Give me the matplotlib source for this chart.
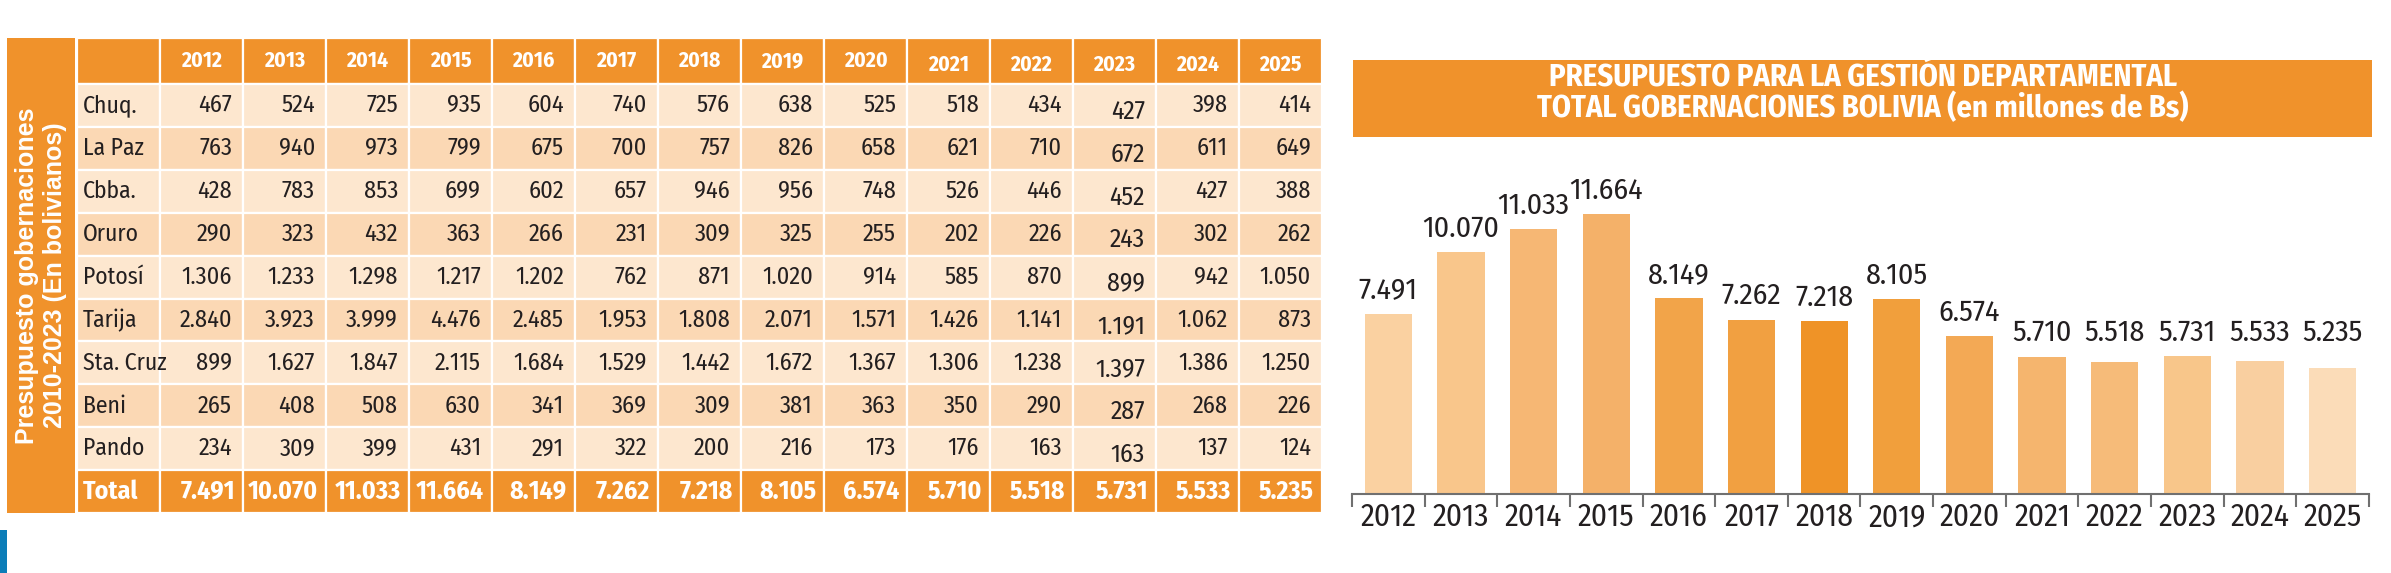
import matplotlib
matplotlib.use("Agg")
import matplotlib.pyplot as plt
from matplotlib.patches import Rectangle
from matplotlib import font_manager

# Data
years = ['2012', '2013', '2014', '2015', '2016', '2017', '2018',
         '2019', '2020', '2021', '2022', '2023', '2024', '2025']
departments = ['Chuq.', 'La Paz', 'Cbba.', 'Oruro', 'Potosí', 'Tarija',
               'Sta. Cruz', 'Beni', 'Pando']

chuq = [467, 524, 725, 935, 604, 740, 576, 638, 525, 518, 434, 427, 398, 414]
la_paz = [763, 940, 973, 799, 675, 700, 757, 826, 658, 621, 710, 672, 611, 649]
cbba = [428, 783, 853, 699, 602, 657, 946, 956, 748, 526, 446, 452, 427, 388]
oruro = [290, 323, 432, 363, 266, 231, 309, 325, 255, 202, 226, 243, 302, 262]
potosi = [1306, 1233, 1298, 1217, 1202, 762, 871, 1020, 914, 585, 870, 899, 942, 1050]
tarija = [2840, 3923, 3999, 4476, 2485, 1953, 1808, 2071, 1571, 1426, 1141, 1191, 1062, 873]
sta_cruz = [899, 1627, 1847, 2115, 1684, 1529, 1442, 1672, 1367, 1306, 1238, 1397, 1386, 1250]
beni = [265, 408, 508, 630, 341, 369, 309, 381, 363, 350, 290, 287, 268, 226]
pando = [234, 309, 399, 431, 291, 322, 200, 216, 173, 176, 163, 163, 137, 124]
totals = [7491, 10070, 11033, 11664, 8149, 7262, 7218, 8105, 6574, 5710, 5518, 5731, 5533, 5235]

rows = [chuq, la_paz, cbba, oruro, potosi, tarija, sta_cruz, beni, pando]

bar_colors = ['#fad1a1', '#f9c68b', '#f6b774', '#f4b169', '#f2a449', '#f1a041', '#ef9327',
              '#f19f3c', '#f3a955', '#f5b56e', '#f6bb79', '#f8c68a', '#f9cfa0', '#fbdcb8']

side_title = 'Presupuesto gobernaciones\n2010-2023 (En bolivianos)'
chart_title_1 = 'PRESUPUESTO PARA LA GESTIÓN DEPARTAMENTAL'
chart_title_2 = 'TOTAL GOBERNACIONES BOLIVIA (en millones de Bs)'

ORANGE = '#f0922b'
LIGHT = '#fde7cf'
DARK = '#fbd8b4'
TXT = '#231f20'

# pick a condensed face (the original uses a condensed sans)
names = {f.name for f in font_manager.fontManager.ttflist}
NARROW = 'DejaVu Sans'
for cand in ['Fira Sans Condensed', 'Roboto Condensed', 'PT Sans Narrow', 'Archivo Narrow',
             'Asap Condensed', 'Encode Sans Condensed', 'Pragati Narrow', 'Liberation Sans Narrow']:
    if cand in names:
        NARROW = cand
        break
WIDE = 'Liberation Sans' if 'Liberation Sans' in names else 'DejaVu Sans'


def fmt(v):
    return f"{v:,}".replace(',', '.')


W, H = 2391, 573
fig = plt.figure(figsize=(W / 100, H / 100), dpi=100)

# pixel-space axes for the table and decorations
bg = fig.add_axes([0, 0, 1, 1])
bg.set_xlim(0, W)
bg.set_ylim(H, 0)
bg.axis('off')

# table geometry
top = 38
head_h = 46
row_h = (513 - top - head_h) / 10
label_x0, label_x1 = 77, 160
col_w = 83

# side panel
bg.add_patch(Rectangle((7, top), 68, 513 - top, color=ORANGE, lw=0))
bg.text(41, (top + 513) / 2, side_title, rotation=90, ha='center', va='center',
        color='white', fontsize=18, fontweight='bold', family=WIDE,
        multialignment='center', linespacing=1.2)

# blue mark at the bottom-left
bg.add_patch(Rectangle((0, 530), 7, 43, color='#0b7db8', lw=0))


def cell(x, y, w, h, color):
    bg.add_patch(Rectangle((x, y), w, h, facecolor=color, edgecolor='white', lw=1.6))


# header row
cell(label_x0, top, label_x1 - label_x0, head_h, ORANGE)
for j, yr in enumerate(years):
    x = label_x1 + j * col_w
    cell(x, top, col_w, head_h, ORANGE)
    dy = 4 if j >= 9 else 0
    bg.text(x + col_w / 2, top + head_h / 2 + dy, yr, ha='center', va='center',
            color='white', fontsize=15.5, fontweight='bold', family=NARROW)

# body rows
for i, (dep, vals) in enumerate(zip(departments, rows)):
    y = top + head_h + i * row_h
    base = LIGHT if i % 2 == 0 else DARK
    cell(label_x0, y, label_x1 - label_x0, row_h, base)
    bg.text(label_x0 + 6, y + row_h / 2, dep, ha='left', va='center',
            color=TXT, fontsize=17, family=NARROW)
    for j, v in enumerate(vals):
        x = label_x1 + j * col_w
        cell(x, y, col_w, row_h, base)
        dy = 6 if j == 11 else 0
        bg.text(x + col_w - 11, y + row_h / 2 + dy, fmt(v), ha='right', va='center',
                color=TXT, fontsize=18.5 if j == 11 else 17.5, family=NARROW)

# total row
y = top + head_h + 9 * row_h
cell(label_x0, y, label_x1 - label_x0, row_h, ORANGE)
bg.text(label_x0 + 6, y + row_h / 2, 'Total', ha='left', va='center',
        color='white', fontsize=18.5, fontweight='bold', family=NARROW)
for j, v in enumerate(totals):
    x = label_x1 + j * col_w
    cell(x, y, col_w, row_h, ORANGE)
    bg.text(x + col_w - 8, y + row_h / 2, fmt(v), ha='right', va='center',
            color='white', fontsize=18.5, fontweight='bold', family=NARROW)

# chart title box
bg.add_patch(Rectangle((1353, 60), 1019, 77, color=ORANGE, lw=0))
bg.text(1863, 78, chart_title_1, ha='center', va='center', color='white',
        fontsize=22, fontweight='bold', family=NARROW)
bg.text(1863, 108, chart_title_2, ha='center', va='center', color='white',
        fontsize=22, fontweight='bold', family=NARROW)

# bar chart
ax_left, ax_right, base_y, ax_h = 1352, 2369, 494, 300
ax = fig.add_axes([ax_left / W, (H - base_y) / H, (ax_right - ax_left) / W, ax_h / H])
ax.patch.set_alpha(0)
xs = list(range(len(years)))
ax.bar(xs, totals, width=0.65, color=bar_colors)
ax.set_xlim(-0.5, len(years) - 0.5)
ax.set_ylim(0, 12500)

LABEL_FLOOR = 5731
for x, v in zip(xs, totals):
    ax.annotate(fmt(v), (x, max(v, LABEL_FLOOR)), xytext=(0, 11), textcoords='offset points',
                ha='center', va='baseline', fontsize=21.5, color=TXT, family=NARROW)

for s in ['top', 'right', 'left']:
    ax.spines[s].set_visible(False)
ax.spines['bottom'].set_color('#707070')
ax.spines['bottom'].set_linewidth(1.5)
ax.set_yticks([])
ax.set_xticks(xs)
ax.set_xticklabels(years, fontsize=22.5, family=NARROW, color=TXT)
ax.set_xticks([x - 0.5 for x in xs] + [len(years) - 0.5], minor=True)
ax.tick_params(axis='x', which='major', length=0, pad=6)
ax.tick_params(axis='x', which='minor', length=9.5, width=1.5, color='#707070')

fig.savefig('out.png', dpi=100)
